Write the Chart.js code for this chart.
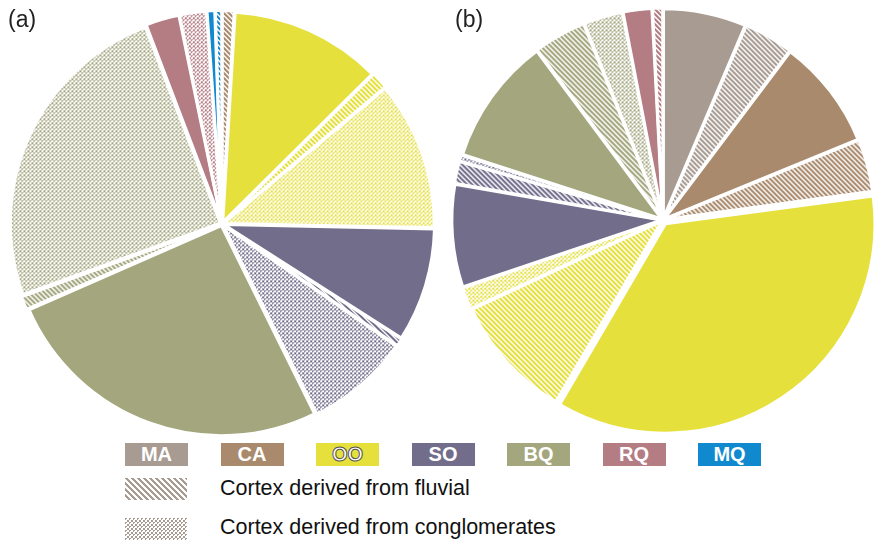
<!DOCTYPE html>
<html>
<head>
<meta charset="utf-8">
<script src="https://cdn.jsdelivr.net/npm/chart.js@4.4.1/dist/chart.umd.min.js"></script>
<style>
  body { margin: 0; background: #fff; font-family: Arial, "Liberation Sans", sans-serif; }
  #wrap { position: relative; width: 882px; height: 540px; overflow: hidden; }
  canvas.pie { position: absolute; }
  .tag { position: absolute; font-size: 23px; color: #222; }
  .box { position: absolute; width: 63px; height: 23px; color: #fff; font-weight: bold;
         font-size: 20px; line-height: 23px; text-align: center; }
  .swatch { position: absolute; }
  .note { position: absolute; font-size: 21.5px; color: #111; }
</style>
</head>
<body>
<div id="wrap">
  <canvas id="pieA" class="pie" width="438" height="438" style="left:3px;top:5px"></canvas>
  <canvas id="pieB" class="pie" width="446" height="446" style="left:440px;top:-3px"></canvas>
  <div class="tag" style="left:8px;top:6px">(a)</div>
  <div class="tag" style="left:455px;top:6px">(b)</div>
  <div id="legend"></div>
</div>
<script>
// rock types and their colours
const rockTypes = ['MA', 'CA', 'OO', 'SO', 'BQ', 'RQ', 'MQ'];
const rockColors = ['#a89b92', '#a98a6d', '#e5e03c', '#736d8c', '#a4a67e', '#b47c83', '#1089cf'];

// slices of pie (a), clockwise from 12 o'clock
const labelsA = ['CA fluvial', 'OO', 'OO fluvial', 'OO conglomerates', 'SO', 'SO fluvial',
  'SO conglomerates', 'BQ', 'BQ fluvial', 'BQ conglomerates', 'RQ', 'RQ conglomerates',
  'MQ', 'MQ fluvial'];
const valuesA = [0.9, 11.2, 1.3, 11.0, 8.4, 0.6, 7.7, 24.8, 1.0, 23.8, 2.5, 2.0, 0.6, 0.5];

// slices of pie (b), clockwise from 12 o'clock
const labelsB = ['MA', 'MA fluvial', 'CA', 'CA fluvial', 'OO', 'OO fluvial', 'OO conglomerates',
  'SO', 'SO fluvial', 'SO conglomerates', 'BQ', 'BQ fluvial', 'BQ conglomerates', 'RQ', 'RQ fluvial'];
const valuesB = [6.3, 3.8, 8.4, 4.0, 35.0, 9.5, 1.7, 7.8, 1.7, 0.5, 9.7, 4.0, 3.0, 2.2, 0.8];

function tile(w, h, color, test) {
  const c = document.createElement('canvas');
  c.width = w; c.height = h;
  const g = c.getContext('2d');
  g.fillStyle = '#fff';
  g.fillRect(0, 0, w, h);
  g.fillStyle = color;
  for (let y = 0; y < h; y++) {
    for (let x = 0; x < w; x++) {
      if (test(x, y)) g.fillRect(x, y, 1, 1);
    }
  }
  return c;
}

function hatch(color, size) {
  size = size || 5;
  return tile(size, size, color, (x, y) => (x - y + 2 * size) % size < Math.ceil(size / 2));
}

// staggered little specks
function dots(color) {
  return tile(4, 4, color, (x, y) => (x < 2) === (y < 2) && !(x === 1 && y === 1));
}

function fillFor(ctx, label) {
  const parts = label.split(' ');
  const color = rockColors[rockTypes.indexOf(parts[0])];
  if (parts[1] === 'fluvial') return ctx.createPattern(hatch(color), 'repeat');
  if (parts[1] === 'conglomerates') return ctx.createPattern(dots(color), 'repeat');
  return color;
}

function makePie(id, labels, values, offsets) {
  const ctx = document.getElementById(id).getContext('2d');
  return new Chart(ctx, {
    type: 'pie',
    data: {
      labels: labels,
      datasets: [{
        data: values,
        backgroundColor: labels.map(l => fillFor(ctx, l)),
        borderColor: '#fff',
        borderWidth: 3,
        offset: offsets
      }]
    },
    options: {
      responsive: false,
      animation: false,
      layout: { padding: 4 },
      plugins: { legend: { display: false }, tooltip: { enabled: false } }
    }
  });
}

makePie('pieA', labelsA, valuesA, labelsA.map(() => 7));
makePie('pieB', labelsB, valuesB, labelsB.map(l => l === 'OO' ? 18 : 7));

// legend
const legend = document.getElementById('legend');
rockTypes.forEach((r, i) => {
  const d = document.createElement('div');
  d.className = 'box';
  d.style.left = (125 + i * 95.5) + 'px';
  d.style.top = '443px';
  d.style.background = rockColors[i];
  d.textContent = r;
  if (r === 'OO') {
    d.style.color = '#fff';
    d.style.webkitTextStroke = '1px #555';
  }
  legend.appendChild(d);
});

const cortexNotes = ['Cortex derived from fluvial', 'Cortex derived from conglomerates'];
cortexNotes.forEach((t, i) => {
  const sw = document.createElement('canvas');
  sw.className = 'swatch';
  sw.width = 62; sw.height = 22;
  sw.style.left = '125px';
  sw.style.top = (478 + i * 40) + 'px';
  const g = sw.getContext('2d');
  g.fillStyle = g.createPattern(i === 0 ? hatch('#a89b92', 6) : dots('#a89b92'), 'repeat');
  g.fillRect(0, 0, 62, 22);
  legend.appendChild(sw);
  const n = document.createElement('div');
  n.className = 'note';
  n.style.left = '220px';
  n.style.top = (476 + i * 39) + 'px';
  n.textContent = t;
  legend.appendChild(n);
});
</script>
</body>
</html>
